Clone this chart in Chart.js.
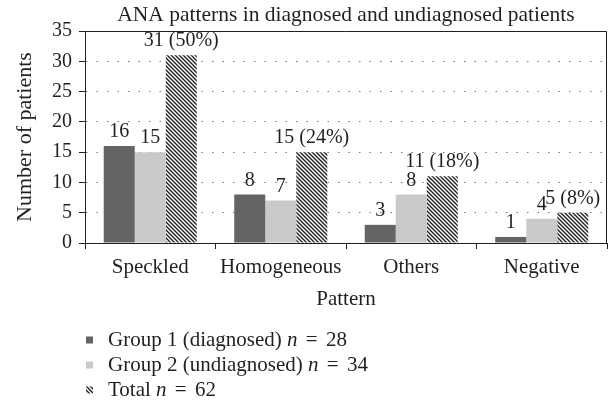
<!DOCTYPE html>
<html>
<head>
<meta charset="utf-8">
<title>ANA patterns in diagnosed and undiagnosed patients</title>
<script src="https://cdn.jsdelivr.net/npm/chart.js@4.4.1/dist/chart.umd.min.js"></script>
<style>
  html, body { margin: 0; padding: 0; background: #fff; }
  canvas { display: block; }
</style>
</head>
<body>
<canvas id="anaChart" width="610" height="404"></canvas>
<script>
// data
const categories = ['Speckled', 'Homogeneous', 'Others', 'Negative'];
const group1 = [16, 8, 3, 1];
const group2 = [15, 7, 8, 4];
const total = [31, 15, 11, 5];
const totalPercent = [50, 24, 18, 8];
const yTicks = [0, 5, 10, 15, 20, 25, 30, 35];
const legendNames = ['Group 1 (diagnosed)', 'Group 2 (undiagnosed)', 'Total'];
const legendN = [28, 34, 62];

const serif = "'Liberation Serif', 'Times New Roman', serif";
const textColor = '#231f20';
const axisColor = '#231f20';
const darkGray = '#636466';
const lightGray = '#c8c9cb';

function makeHatch(ctx) {
  const c = document.createElement('canvas');
  c.width = 4; c.height = 4;
  const g = c.getContext('2d');
  g.fillStyle = '#fff';
  g.fillRect(0, 0, 4, 4);
  g.strokeStyle = '#231f20';
  g.lineWidth = 1.4;
  g.beginPath();
  g.moveTo(-1, -1); g.lineTo(5, 5);
  g.moveTo(-1, 3); g.lineTo(1, 5);
  g.moveTo(3, -1); g.lineTo(5, 1);
  g.stroke();
  return ctx.createPattern(c, 'repeat');
}

const canvas = document.getElementById('anaChart');
const ctx = canvas.getContext('2d');
const hatch = makeHatch(ctx);

// title, frame, value labels and the legend
const annotate = {
  id: 'annotate',
  afterDatasetsDraw(chart) {
    const c = chart.ctx;
    const a = chart.chartArea;
    c.save();
    c.strokeStyle = axisColor;
    c.lineWidth = 1;
    c.beginPath();
    c.moveTo(a.left, a.top + 0.5);
    c.lineTo(a.right - 0.5, a.top + 0.5);
    c.lineTo(a.right - 0.5, a.bottom);
    c.stroke();

    c.font = '20px ' + serif;
    c.fillStyle = textColor;
    c.textAlign = 'center';
    c.textBaseline = 'alphabetic';
    chart.data.datasets.forEach((ds, i) => {
      chart.getDatasetMeta(i).data.forEach((bar, j) => {
        const txt = i === 2 ? `${total[j]} (${totalPercent[j]}%)` : String(ds.data[j]);
        c.fillText(txt, bar.x, bar.y - 9);
      });
    });
    c.restore();
  },
  afterDraw(chart) {
    const c = chart.ctx;
    const a = chart.chartArea;
    c.save();
    c.fillStyle = textColor;
    c.font = '21.5px ' + serif;
    c.textAlign = 'center';
    c.textBaseline = 'middle';
    c.fillText('ANA patterns in diagnosed and undiagnosed patients', (a.left + a.right) / 2, 15);

    c.textAlign = 'left';
    const rowY = [340, 365, 390];
    chart.data.datasets.forEach((ds, i) => {
      const y = rowY[i];
      c.fillStyle = ds.backgroundColor;
      c.fillRect(86, y - 3.5, 7, 7);
      let x = 108;
      const parts = [
        [legendNames[i] + ' ', 'normal', 0],
        ['n', 'italic', 3],
        ['=', 'normal', 3],
        [String(legendN[i]), 'normal', 0]
      ];
      c.fillStyle = textColor;
      parts.forEach(([t, style, gap], k) => {
        c.font = (style === 'italic' ? 'italic ' : '') + '21px ' + serif;
        c.fillText(t, x, y);
        x += c.measureText(t).width + gap;
        if (k >= 1 && k < 3) x += c.measureText(' ').width;
      });
    });
    c.restore();
  }
};

new Chart(ctx, {
  type: 'bar',
  data: {
    labels: categories,
    datasets: [
      { label: legendNames[0], data: group1, backgroundColor: darkGray },
      { label: legendNames[1], data: group2, backgroundColor: lightGray },
      { label: legendNames[2], data: total, backgroundColor: hatch }
    ]
  },
  options: {
    responsive: false,
    animation: false,
    datasets: {
      bar: { categoryPercentage: 0.713, barPercentage: 1, borderWidth: 0 }
    },
    layout: { padding: { left: 0, right: 3, top: 31, bottom: 88 } },
    plugins: {
      legend: { display: false },
      title: { display: false },
      tooltip: { enabled: false }
    },
    scales: {
      x: {
        grid: { drawOnChartArea: false, drawTicks: true, tickLength: 6, color: axisColor, offset: true },
        border: { color: axisColor, width: 1 },
        ticks: { color: textColor, font: { family: serif, size: 21 }, padding: 6, maxRotation: 0 },
        title: {
          display: true,
          text: 'Pattern',
          color: textColor,
          font: { family: serif, size: 21 },
          padding: { top: 4, bottom: 4 }
        },
        afterFit: s => { s.height = 73; }
      },
      y: {
        min: 0,
        max: 35,
        afterBuildTicks: s => { s.ticks = yTicks.map(v => ({ value: v })); },
        ticks: { color: textColor, font: { family: serif, size: 20 }, padding: 7 },
        grid: {
          color: c => (c.tick && (c.tick.value === 0 || c.tick.value === 35)) ? 'rgba(0,0,0,0)' : '#777',
          tickColor: axisColor,
          tickLength: 6,
          tickBorderDash: [],
          lineWidth: 1
        },
        border: { color: axisColor, width: 1, dash: [1.5, 9] },
        title: {
          display: true,
          text: 'Number of patients',
          color: textColor,
          font: { family: serif, size: 22 },
          padding: { top: 12, bottom: 0 }
        },
        afterFit: s => { s.width = 85; }
      }
    }
  },
  plugins: [annotate]
});
</script>
</body>
</html>
